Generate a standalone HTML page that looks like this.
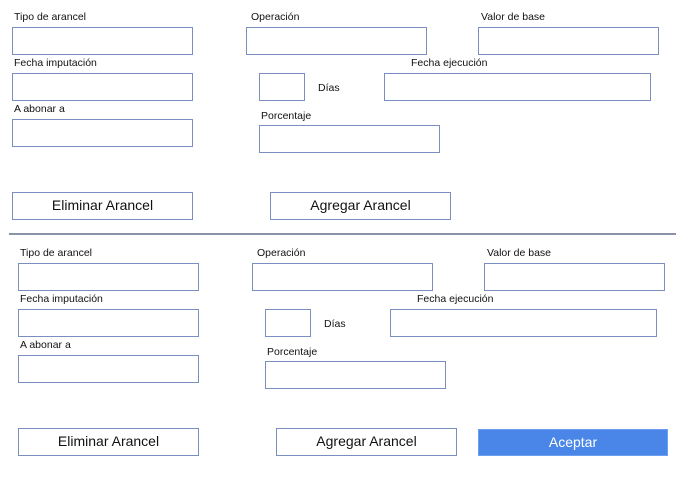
<!DOCTYPE html>
<html><head><meta charset="utf-8"><style>
html,body{margin:0;padding:0;background:#fff;}
body{width:696px;height:489px;position:relative;overflow:hidden;font-family:"Liberation Sans",sans-serif;}
.s{position:absolute;left:0;top:0;}
.b{position:absolute;box-sizing:border-box;border:1px solid #7a8fbf;background:#fff;}
.l{position:absolute;font-size:10.5px;color:#111;line-height:12px;white-space:nowrap;}
.btn{position:absolute;box-sizing:border-box;border:1px solid #7a8fbf;background:#fff;font-size:14px;text-align:center;line-height:25px;color:#111;}
</style></head><body>
<div class="s" style="left:0;top:0">
 <div class="l" style="left:14px;top:11px">Tipo de arancel</div>
 <div class="b" style="left:12px;top:27px;width:181px;height:28px"></div>
 <div class="l" style="left:251px;top:11px">Operación</div>
 <div class="b" style="left:246px;top:27px;width:181px;height:28px"></div>
 <div class="l" style="left:481px;top:11px">Valor de base</div>
 <div class="b" style="left:478px;top:27px;width:181px;height:28px"></div>
 <div class="l" style="left:14px;top:57px">Fecha imputación</div>
 <div class="b" style="left:12px;top:73px;width:181px;height:28px"></div>
 <div class="b" style="left:259px;top:73px;width:46px;height:28px"></div>
 <div class="l" style="left:318px;top:82px">Días</div>
 <div class="l" style="left:411px;top:57px">Fecha ejecución</div>
 <div class="b" style="left:384px;top:73px;width:267px;height:28px"></div>
 <div class="l" style="left:14px;top:103px">A abonar a</div>
 <div class="b" style="left:12px;top:119px;width:181px;height:28px"></div>
 <div class="l" style="left:261px;top:110px">Porcentaje</div>
 <div class="b" style="left:259px;top:125px;width:181px;height:28px"></div>
 <div class="btn" style="left:12px;top:192px;width:181px;height:28px">Eliminar Arancel</div>
 <div class="btn" style="left:270px;top:192px;width:181px;height:28px">Agregar Arancel</div>
</div>
<div style="position:absolute;left:9px;top:233px;width:667px;height:1.5px;background:#8a93a6"></div>
<div class="s" style="left:6px;top:236px">
 <div class="l" style="left:14px;top:11px">Tipo de arancel</div>
 <div class="b" style="left:12px;top:27px;width:181px;height:28px"></div>
 <div class="l" style="left:251px;top:11px">Operación</div>
 <div class="b" style="left:246px;top:27px;width:181px;height:28px"></div>
 <div class="l" style="left:481px;top:11px">Valor de base</div>
 <div class="b" style="left:478px;top:27px;width:181px;height:28px"></div>
 <div class="l" style="left:14px;top:57px">Fecha imputación</div>
 <div class="b" style="left:12px;top:73px;width:181px;height:28px"></div>
 <div class="b" style="left:259px;top:73px;width:46px;height:28px"></div>
 <div class="l" style="left:318px;top:82px">Días</div>
 <div class="l" style="left:411px;top:57px">Fecha ejecución</div>
 <div class="b" style="left:384px;top:73px;width:267px;height:28px"></div>
 <div class="l" style="left:14px;top:103px">A abonar a</div>
 <div class="b" style="left:12px;top:119px;width:181px;height:28px"></div>
 <div class="l" style="left:261px;top:110px">Porcentaje</div>
 <div class="b" style="left:259px;top:125px;width:181px;height:28px"></div>
 <div class="btn" style="left:12px;top:192px;width:181px;height:28px">Eliminar Arancel</div>
 <div class="btn" style="left:270px;top:192px;width:181px;height:28px">Agregar Arancel</div>
</div>
<div class="btn" style="left:478px;top:429px;width:190px;height:27px;background:#4a86e8;border-color:#6d9ff0;color:#fff;line-height:25px">Aceptar</div>
</body></html>
